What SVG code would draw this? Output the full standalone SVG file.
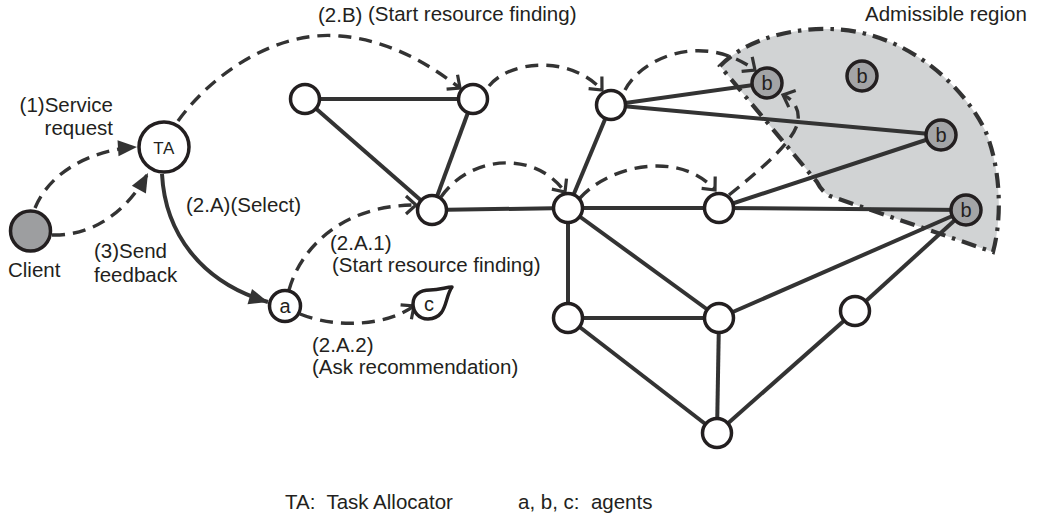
<svg xmlns="http://www.w3.org/2000/svg" width="1037" height="519" viewBox="0 0 1037 519">
  <style>
    text { font-family: "Liberation Sans", Arial, sans-serif; fill: #231f20; }
    .lbl { font-size: 20.5px; white-space: pre; }
    .in { font-size: 20px; text-anchor: middle; }
    .edge { stroke: #333; stroke-width: 4; fill: none; }
    .dash { stroke: #333; stroke-width: 3.4; fill: none; stroke-dasharray: 13 8; }
    .node { fill: #fff; stroke: #231f20; stroke-width: 3.5; }
    .agent { fill: #a3a4a6; stroke: #231f20; stroke-width: 3.5; }
  </style>
  <defs>
    <marker id="open" markerUnits="userSpaceOnUse" markerWidth="24" markerHeight="24" viewBox="-12 -12 24 24" refX="0" refY="0" orient="auto">
      <path d="M-10,-9 L0,0 L-10,9" fill="none" stroke="#333" stroke-width="3.2"/>
    </marker>
    <marker id="solid" markerUnits="userSpaceOnUse" markerWidth="24" markerHeight="24" viewBox="-20 -12 24 24" refX="0" refY="0" orient="auto">
      <path d="M-19,-8 L0,0 L-19,8 Z" fill="#333"/>
    </marker>
  </defs>

  <!-- admissible region -->
  <g id="region">
    <path d="M720,66 C740,45 780,28 830,29 C900,30 960,80 985,130 C1000,165 1003,215 993,252 L830,196 Q822,192 817,182 Z" fill="#d1d3d4" stroke="#333" stroke-width="4.2" stroke-dasharray="15 7 3.5 7"/>
    <text class="lbl" x="865" y="21">Admissible region</text>
  </g>

  <!-- network links and message flows -->
  <g id="connectors">
    <line class="edge" x1="305" y1="99" x2="473" y2="99"/>
    <line class="edge" x1="305" y1="99" x2="432" y2="210"/>
    <line class="edge" x1="473" y1="99" x2="432" y2="210"/>
    <line class="edge" x1="432" y1="210" x2="568" y2="208"/>
    <line class="edge" x1="611" y1="105" x2="568" y2="208"/>
    <line class="edge" x1="611" y1="105" x2="767" y2="83"/>
    <line class="edge" x1="611" y1="105" x2="941" y2="135"/>
    <line class="edge" x1="568" y1="208" x2="719" y2="208"/>
    <line class="edge" x1="719" y1="208" x2="966" y2="210"/>
    <line class="edge" x1="719" y1="208" x2="941" y2="135"/>
    <line class="edge" x1="568" y1="208" x2="568" y2="318"/>
    <line class="edge" x1="568" y1="208" x2="719" y2="318"/>
    <line class="edge" x1="568" y1="318" x2="719" y2="318"/>
    <line class="edge" x1="568" y1="318" x2="717" y2="433"/>
    <line class="edge" x1="719" y1="318" x2="717" y2="433"/>
    <line class="edge" x1="719" y1="318" x2="966" y2="210"/>
    <line class="edge" x1="717" y1="433" x2="855" y2="311"/>
    <line class="edge" x1="855" y1="311" x2="966" y2="210"/>

    <!-- client <-> task allocator -->
    <path class="dash" d="M35,208 C50,172 90,150 137,147" marker-end="url(#solid)"/>
    <path class="dash" d="M52,235 C90,236 125,215 148,173" marker-end="url(#solid)"/>
    <path class="edge" stroke-width="3.5" d="M162,174 C165,232 200,282 268,302" marker-end="url(#solid)"/>

    <!-- resource finding flows -->
    <path class="dash" d="M178,121 C215,70 280,30 340,36 C390,40 430,65 460,88" marker-end="url(#open)"/>
    <path class="dash" d="M489,86 C510,60 570,55 602,90" marker-end="url(#open)"/>
    <path class="dash" d="M625,90 C640,60 700,30 755,70" marker-end="url(#open)"/>
    <path class="dash" d="M441,197 C470,155 535,150 565,192" marker-end="url(#open)"/>
    <path class="dash" d="M580,198 C610,165 680,150 715,190" marker-end="url(#open)"/>
    <path class="dash" d="M729,195 C760,170 790,145 797,125 C801,112 795,100 783,95" marker-end="url(#open)"/>
    <path class="dash" d="M289,290 C300,250 340,205 416,205" marker-end="url(#open)"/>
    <path class="dash" d="M300,314 C340,330 390,324 414,306" marker-end="url(#open)"/>
  </g>

  <g id="client">
    <circle cx="30.5" cy="231" r="20" fill="#9d9ea0" stroke="#231f20" stroke-width="3.5"/>
    <text class="lbl" x="8" y="277">Client</text>
  </g>
  <g id="ta">
    <circle class="node" cx="164" cy="147" r="25"/>
    <text x="164" y="154" font-size="17" text-anchor="middle" letter-spacing="0.5">TA</text>
  </g>
  <g id="n1"><circle class="node" cx="305" cy="99" r="14.5"/></g>
  <g id="n2"><circle class="node" cx="473" cy="99" r="14.5"/></g>
  <g id="n3"><circle class="node" cx="611" cy="105" r="14.5"/></g>
  <g id="n4"><circle class="node" cx="432" cy="210" r="14.5"/></g>
  <g id="n5"><circle class="node" cx="568" cy="208" r="14.5"/></g>
  <g id="n6"><circle class="node" cx="719" cy="208" r="14.5"/></g>
  <g id="n7"><circle class="node" cx="568" cy="318" r="14.5"/></g>
  <g id="n8"><circle class="node" cx="719" cy="318" r="14.5"/></g>
  <g id="n9"><circle class="node" cx="855" cy="311" r="14.5"/></g>
  <g id="n10"><circle class="node" cx="717" cy="433" r="14.5"/></g>
  <g id="b1"><circle class="agent" cx="767" cy="83" r="15"/><text class="in" x="767" y="90">b</text></g>
  <g id="b2"><circle class="agent" cx="862" cy="76" r="15"/><text class="in" x="862" y="83">b</text></g>
  <g id="b3"><circle class="agent" cx="941" cy="135" r="15"/><text class="in" x="941" y="142">b</text></g>
  <g id="b4"><circle class="agent" cx="966" cy="210" r="15"/><text class="in" x="966" y="217">b</text></g>
  <g id="a">
    <circle class="node" cx="285" cy="306" r="15.5"/>
    <text class="in" x="285" y="313">a</text>
  </g>
  <g id="c">
    <path d="M452,287 C444,298 448,318 428,319 C418,319 413,311 413,304 C413,295 420,290 430,290 C440,290 446,287 452,287 Z" fill="#fff" stroke="#231f20" stroke-width="3.5" stroke-linejoin="round"/>
    <text class="in" x="429" y="311">c</text>
  </g>

  <!-- flow labels -->
  <g id="labels">
    <text class="lbl" x="113" y="112" text-anchor="end" font-size="20">(1)Service</text>
    <text class="lbl" x="113" y="135" text-anchor="end" font-size="20">request</text>
    <text class="lbl" x="94" y="258">(3)Send</text>
    <text class="lbl" x="94" y="282">feedback</text>
    <text class="lbl" x="186" y="212">(2.A)(Select)</text>
    <text class="lbl" x="318" y="22">(2.B)</text>
    <text class="lbl" x="368" y="21">(Start resource finding)</text>
    <text class="lbl" x="330" y="250">(2.A.1)</text>
    <text class="lbl" x="332" y="272">(Start resource finding)</text>
    <text class="lbl" x="312" y="352">(2.A.2)</text>
    <text class="lbl" x="312" y="374">(Ask recommendation)</text>
    <text class="lbl" x="285" y="509">TA:  Task Allocator</text>
    <text class="lbl" x="518" y="509">a, b, c:  agents</text>
  </g>
</svg>
